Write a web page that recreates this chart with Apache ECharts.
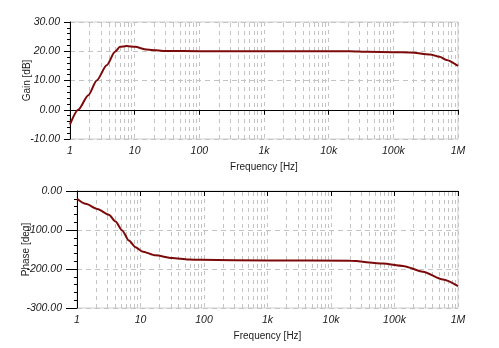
<!DOCTYPE html>
<html>
<head>
<meta charset="utf-8">
<script src="https://cdn.jsdelivr.net/npm/echarts@6/dist/echarts.min.js"></script>
<style>
  html, body { margin: 0; padding: 0; background: #ffffff; }
  #chart { width: 499px; height: 348px; }
</style>
</head>
<body>
<div id="chart"></div>
<script>
// Bode plot: gain and phase versus frequency
const gainFreq = [1, 1.34, 1.92, 2.59, 3.69, 4.96, 5.93, 7.5, 10.1, 15.3, 21.9, 29.5, 100, 1000, 10000, 21300, 40000, 100000, 183000, 370000, 520000, 662000, 1000000];
const gainDb   = [-5.0, 0.0, 5.0, 10.0, 15.2, 19.8, 21.5, 21.8, 21.5, 20.6, 20.3, 20.1, 20.0, 20.0, 20.0, 20.0, 19.8, 19.7, 19.6, 18.9, 18.1, 17.0, 15.0];

const phaseFreq = [1, 1.37, 2.09, 3.18, 4.04, 5.15, 6.56, 8.35, 10.6, 17.2, 31.5, 57, 88, 1000, 19900, 66000, 136000, 280000, 580000, 1000000];
const phaseDeg  = [-20, -33, -46, -61, -78, -101, -127, -144, -155, -165, -172, -175.5, -176.5, -178, -179, -186, -192, -207, -227, -244];

const freqTickLabels = { 1: '1', 10: '10', 100: '100', 1000: '1k', 10000: '10k', 100000: '100k', 1000000: '1M' };

// Intermediate frequencies (2..9 within each decade) for the dashed vertical grid
const gridMultipliers = [2, 3, 4, 5, 6, 7, 8, 9];
const gridDecades = [1, 10, 100, 1000, 10000, 100000];

const minorFreqs = [];
gridDecades.forEach(d => gridMultipliers.forEach(m => minorFreqs.push(m * d)));

const FONT = 'Liberation Sans';
const gridGray = '#c4c4c4';
const traceColor = '#7d0a0a';

function xAxisFor(gridIndex) {
  return {
    type: 'log',
    logBase: 10,
    min: 1,
    max: 1000000,
    gridIndex: gridIndex,
    name: 'Frequency [Hz]',
    nameLocation: 'middle',
    nameGap: 23,
    nameMoveOverlap: false,
    nameTextStyle: { fontFamily: FONT, fontSize: 10, color: '#1a1a1a' },
    axisLine: { show: true, lineStyle: { color: '#000', width: 1 } },
    axisTick: { show: true, length: 5, lineStyle: { color: '#000' } },
    axisLabel: {
      fontFamily: FONT, fontSize: 10.5, fontStyle: 'italic', color: '#1a1a1a', margin: 7,
      formatter: v => freqTickLabels[Math.round(v)] || ''
    },
    splitLine: { show: true, lineStyle: { color: gridGray, type: [4, 4], width: 1 } },
    minorTick: { show: false },
    minorSplitLine: { show: false }
  };
}

function yAxisFor(gridIndex, min, max, interval, name, gap, tickLen, labelMargin) {
  return {
    type: 'value',
    gridIndex: gridIndex,
    min: min,
    max: max,
    interval: interval,
    name: name,
    nameLocation: 'middle',
    nameGap: gap,
    nameMoveOverlap: false,
    nameRotate: 90,
    nameTextStyle: { fontFamily: FONT, fontSize: 10, color: '#1a1a1a' },
    axisLine: { show: true, lineStyle: { color: '#000', width: 1 } },
    axisTick: { show: true, length: tickLen, lineStyle: { color: '#000' } },
    minorTick: { show: true, splitNumber: 5, length: 3, lineStyle: { color: '#000' } },
    axisLabel: {
      fontFamily: FONT, fontSize: 10.5, fontStyle: 'italic', color: '#1a1a1a', margin: labelMargin,
      formatter: v => v.toFixed(2)
    },
    splitLine: { show: true, lineStyle: { color: gridGray, type: [5, 4], width: 1 } }
  };
}

// Dashed vertical lines at the intermediate frequencies, drawn beneath the traces
function gridLineSeries(axisIndex) {
  return {
    type: 'line',
    xAxisIndex: axisIndex, yAxisIndex: axisIndex,
    data: [],
    silent: true,
    z: 1,
    markLine: {
      silent: true,
      z: 1,
      symbol: ['none', 'none'],
      label: { show: false },
      lineStyle: { color: gridGray, type: [4, 4], width: 1 },
      emphasis: { disabled: true },
      animation: false,
      data: minorFreqs.map(f => ({ xAxis: f }))
    }
  };
}

const chart = echarts.init(document.getElementById('chart'), null, { renderer: 'canvas' });

chart.setOption({
  animation: false,
  backgroundColor: '#ffffff',
  grid: [
    { left: 70, right: 41, top: 22, height: 117, show: true, borderColor: '#cfcfcf', borderWidth: 1, backgroundColor: 'transparent' },
    { left: 77, right: 41, top: 191, height: 117, show: true, borderColor: '#cfcfcf', borderWidth: 1, backgroundColor: 'transparent' }
  ],
  xAxis: [xAxisFor(0), xAxisFor(1)],
  yAxis: [
    yAxisFor(0, -10, 30, 10, 'Gain [dB]', 38, 6, 10),
    yAxisFor(1, -300, 0, 100, 'Phase [deg]', 46, 11, 15)
  ],
  series: [
    gridLineSeries(0),
    gridLineSeries(1),
    {
      type: 'line',
      xAxisIndex: 0, yAxisIndex: 0,
      data: gainFreq.map((f, i) => [f, gainDb[i]]),
      showSymbol: false,
      smooth: 0.25,
      smoothMonotone: 'x',
      lineStyle: { color: traceColor, width: 2 },
      z: 10
    },
    {
      type: 'line',
      xAxisIndex: 1, yAxisIndex: 1,
      data: phaseFreq.map((f, i) => [f, phaseDeg[i]]),
      showSymbol: false,
      smooth: 0.25,
      smoothMonotone: 'x',
      lineStyle: { color: traceColor, width: 2 },
      z: 10
    }
  ]
});
</script>
</body>
</html>
